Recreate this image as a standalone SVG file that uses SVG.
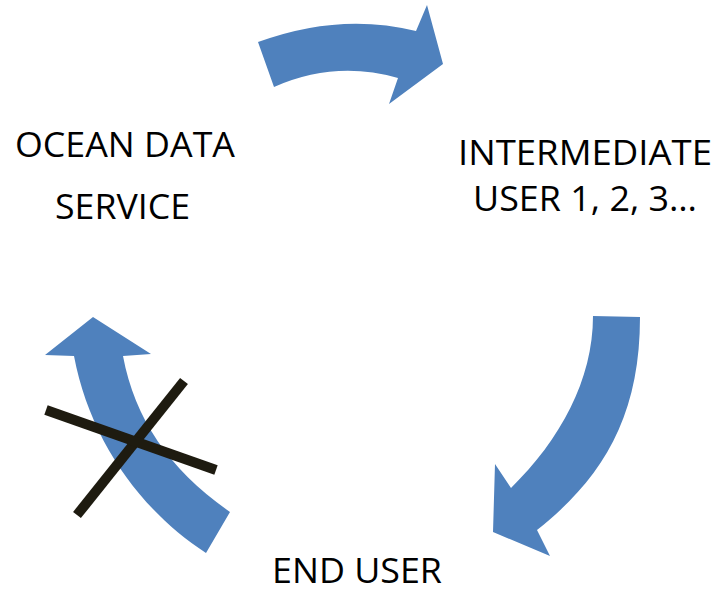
<svg xmlns="http://www.w3.org/2000/svg" width="720" height="593" viewBox="0 0 720 593">
<style>
.arrow{fill:#4f81bd;stroke:none}
.lbl{font-family:"Open Sans","Liberation Sans",sans-serif;font-size:34px;fill:#000}
.cross{stroke:#1e1b10;stroke-width:10;fill:none}
</style>
<rect width="720" height="593" fill="#fff"/>
<g id="ocean-data-service">
<text class="lbl" x="15" y="157" textLength="220" lengthAdjust="spacingAndGlyphs">OCEAN DATA</text>
<text class="lbl" x="55" y="219" textLength="135" lengthAdjust="spacingAndGlyphs">SERVICE</text>
</g>
<g id="intermediate-user">
<text class="lbl" x="458" y="165" textLength="254" lengthAdjust="spacingAndGlyphs">INTERMEDIATE</text>
<text class="lbl" x="473" y="211" textLength="224" lengthAdjust="spacingAndGlyphs">USER 1, 2, 3…</text>
</g>
<g id="end-user">
<text class="lbl" x="272" y="583" font-size="33" textLength="170" lengthAdjust="spacingAndGlyphs">END USER</text>
</g>
<g id="connectors">
<path class="arrow" d="M258,42 Q340,12 416,31 L427,5 L443,64 L389,104 L398,78 Q335,60 274,87 Z"/>
<path class="arrow" d="M593,316 L640,317 C640,420 600,480 537,530 L550,556 L493,532 L495,464 L511,488 C560,440 593,380 593,316 Z"/>
<path class="arrow" d="M93,317 L151,354 L123,356 C135,420 170,470 230,512 L206,553 C140,510 90,440 74,356 L45,355 Z"/>
<line class="cross" x1="184" y1="381" x2="77" y2="515"/>
<line class="cross" x1="46" y1="410" x2="216" y2="470"/>
</g>
</svg>
